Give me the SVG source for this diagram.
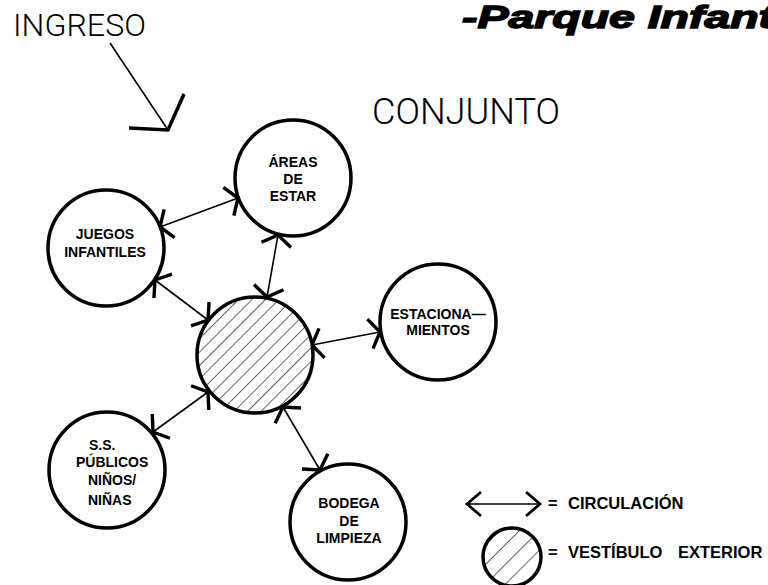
<svg xmlns="http://www.w3.org/2000/svg" width="768" height="585" viewBox="0 0 768 585">
<defs>
<style>
.node{fill:#fff;stroke:#000;stroke-width:3.5}
.hatch{fill:url(#hp);stroke:#000;stroke-width:3.5}
.lbl{font-family:"Liberation Sans",Arial,sans-serif;font-weight:bold;font-size:14px;fill:#000;text-anchor:middle}
.lbls{font-family:"Liberation Sans",Arial,sans-serif;font-weight:bold;font-size:14px;fill:#000}
.thin{font-family:Roboto,"DejaVu Sans",sans-serif;font-weight:300;fill:#000}
.leg{font-family:"Liberation Sans",Arial,sans-serif;font-weight:bold;font-size:16.5px;fill:#000}
.conn{stroke:#000;stroke-width:1.6;fill:none;marker-start:url(#ah);marker-end:url(#ah)}
</style>
<pattern id="hp" patternUnits="userSpaceOnUse" width="9.5" height="9.5" patternTransform="rotate(45)">
<rect width="9.5" height="9.5" fill="#fff"/>
<line x1="0" y1="0" x2="0" y2="9.5" stroke="#000" stroke-width="1.2"/>
</pattern>
<pattern id="hp2" patternUnits="userSpaceOnUse" width="14" height="14" patternTransform="rotate(45)">
<rect width="14" height="14" fill="#fff"/>
<line x1="0" y1="0" x2="0" y2="14" stroke="#000" stroke-width="1.2"/>
</pattern>
<marker id="ah" markerUnits="userSpaceOnUse" viewBox="-20 -20 40 40" markerWidth="40" markerHeight="40" refX="0" refY="0" orient="auto-start-reverse" overflow="visible">
<path d="M-10,-15 L0,0 L-10,15" fill="none" stroke="#000" stroke-width="3.4" stroke-linejoin="miter"/>
</marker>
<marker id="ahl" markerUnits="userSpaceOnUse" viewBox="-20 -20 40 40" markerWidth="40" markerHeight="40" refX="0" refY="0" orient="auto-start-reverse" overflow="visible">
<path d="M-14,-12 L0,0 L-14,12" fill="none" stroke="#000" stroke-width="2.8"/>
</marker>
</defs>
<rect width="768" height="585" fill="#fff"/>

<g id="titles">
<text class="thin" x="13" y="36" font-size="32" textLength="133" lengthAdjust="spacingAndGlyphs">INGRESO</text>
<text class="thin" x="372" y="124" font-size="36" textLength="188" lengthAdjust="spacingAndGlyphs">CONJUNTO</text>
<text x="462" y="28" font-family="'Liberation Sans',Arial,sans-serif" font-weight="bold" font-style="italic" font-size="31" stroke="#000" stroke-width="1.4" textLength="312" lengthAdjust="spacingAndGlyphs">-Parque Infant</text>
</g>

<g id="ingreso-arrow" stroke="#000" fill="none">
<line x1="110" y1="43" x2="168" y2="130" stroke-width="1.6"/>
<polyline points="184,94 168,130 129,128" stroke-width="3.5"/>
</g>

<g id="connectors">
<line class="conn" x1="160" y1="227" x2="238" y2="198"/>
<line class="conn" x1="278" y1="235" x2="267" y2="297"/>
<line class="conn" x1="155" y1="280" x2="208" y2="320"/>
<line class="conn" x1="312" y1="345" x2="380" y2="332"/>
<line class="conn" x1="208" y1="392" x2="153" y2="432"/>
<line class="conn" x1="283" y1="407" x2="320" y2="470"/>
</g>

<g id="areas">
<circle class="node" cx="293" cy="178" r="58"/>
<text class="lbl" x="293" y="167">ÁREAS</text>
<text class="lbl" x="293" y="184">DE</text>
<text class="lbl" x="293" y="201">ESTAR</text>
</g>

<g id="juegos">
<circle class="node" cx="106" cy="248" r="58"/>
<text class="lbl" x="105" y="239">JUEGOS</text>
<text class="lbl" x="105" y="257">INFANTILES</text>
</g>

<g id="vestibulo">
<circle class="hatch" cx="255" cy="355" r="58"/>
</g>

<g id="estacionamientos">
<circle class="node" cx="438" cy="322" r="58"/>
<text class="lbl" x="438" y="319">ESTACIONA—</text>
<text class="lbl" x="438" y="335">MIENTOS</text>
</g>

<g id="ss-publicos">
<circle class="node" cx="107" cy="470" r="58"/>
<text class="lbls" x="89" y="450">S.S.</text>
<text class="lbls" x="76" y="467">PÚBLICOS</text>
<text class="lbls" x="88" y="485">NIÑOS/</text>
<text class="lbls" x="88" y="505">NIÑAS</text>
</g>

<g id="bodega">
<circle class="node" cx="348" cy="522" r="58"/>
<text class="lbl" x="349" y="508">BODEGA</text>
<text class="lbl" x="349" y="526">DE</text>
<text class="lbl" x="349" y="543">LIMPIEZA</text>
</g>

<g id="legend">
<line x1="467" y1="504" x2="540" y2="504" stroke="#000" stroke-width="1.6" marker-start="url(#ahl)" marker-end="url(#ahl)"/>
<text class="leg" y="509"><tspan x="548">=</tspan><tspan x="568">CIRCULACIÓN</tspan></text>
<circle cx="512" cy="557" r="29" fill="url(#hp2)" stroke="#000" stroke-width="3.5"/>
<text class="leg" y="558"><tspan x="548">=</tspan><tspan x="568">VESTÍBULO</tspan><tspan x="678">EXTERIOR</tspan></text>
</g>
</svg>
